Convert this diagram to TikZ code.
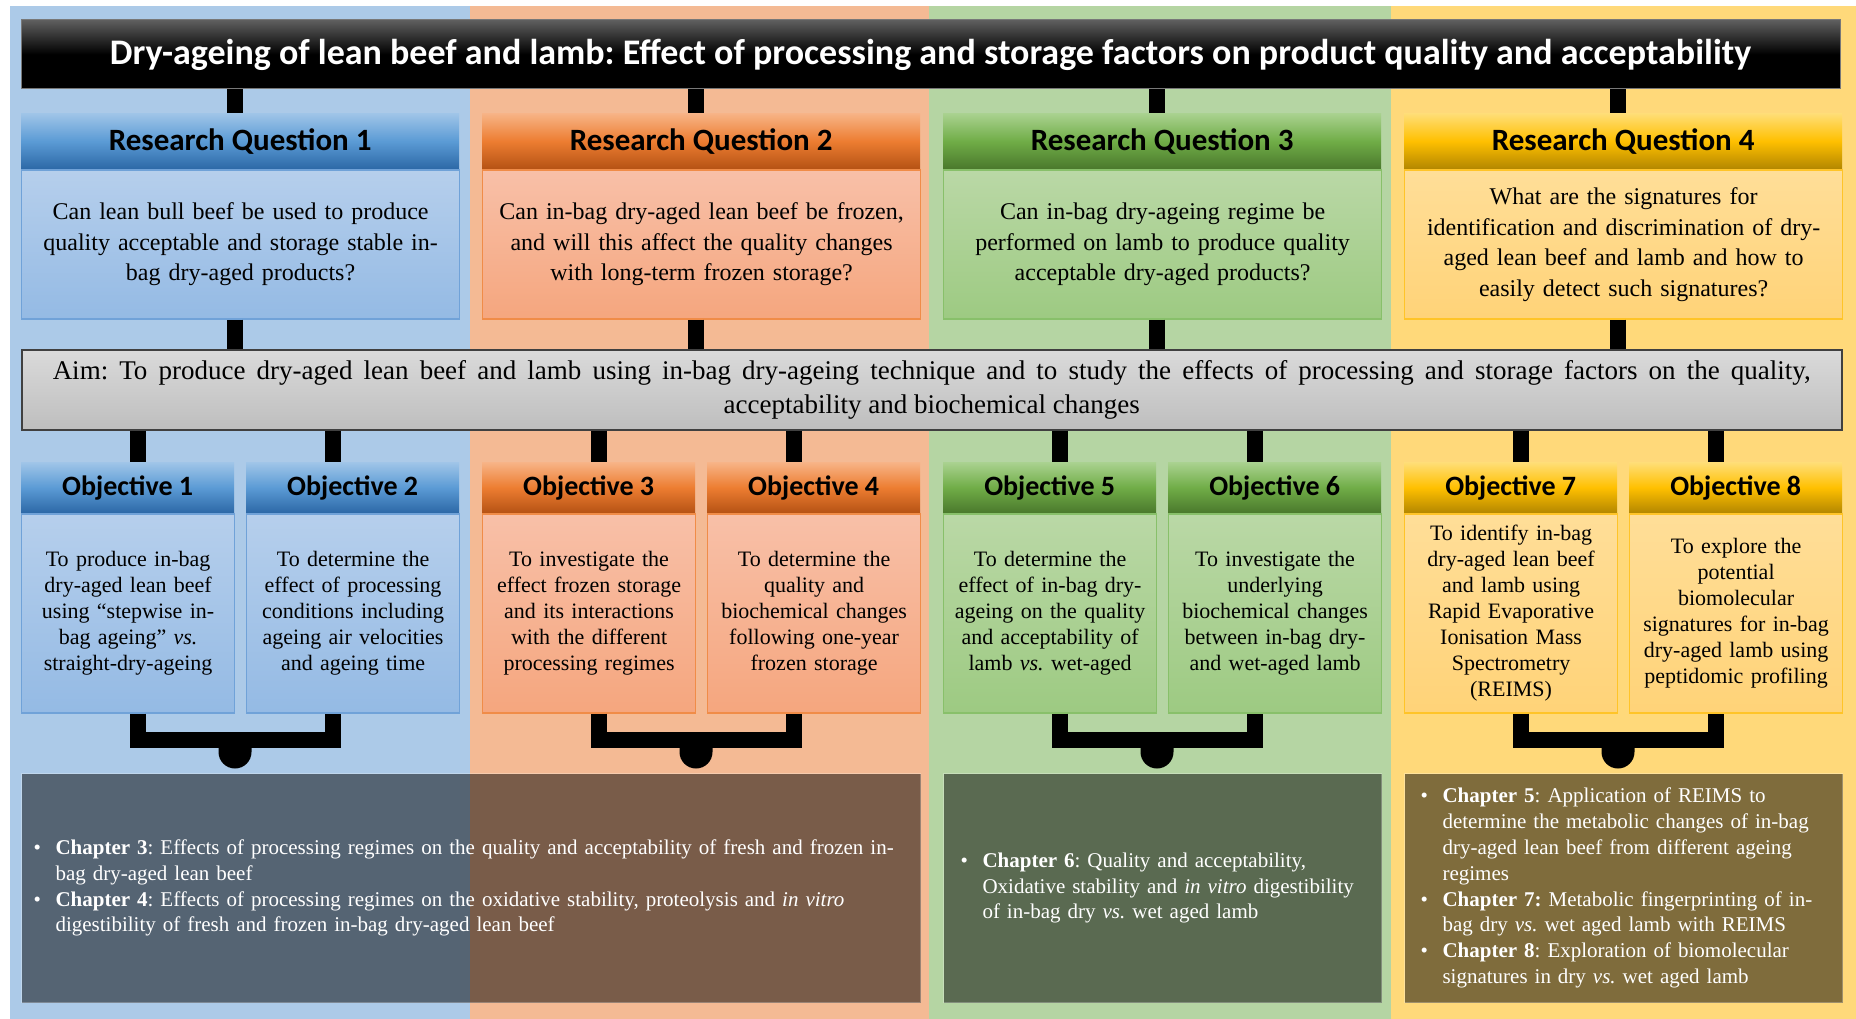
\documentclass[tikz,border=0pt]{standalone}
\usepackage{fontspec}
\setmainfont{Liberation Serif}
\newfontfamily\headfont{Carlito}
\usetikzlibrary{calc}
\frenchspacing

% column backgrounds
\definecolor{bluebg}{RGB}{172,202,232}
\definecolor{orangebg}{RGB}{244,186,148}
\definecolor{greenbg}{RGB}{181,213,163}
\definecolor{yellowbg}{RGB}{255,217,122}
% header gradients
\definecolor{blueT}{RGB}{160,197,232}
\definecolor{blueM}{RGB}{91,155,213}
\definecolor{blueB}{RGB}{44,104,166}
\definecolor{orangeT}{RGB}{247,180,135}
\definecolor{orangeM}{RGB}{237,125,49}
\definecolor{orangeB}{RGB}{181,82,20}
\definecolor{greenT}{RGB}{170,210,144}
\definecolor{greenM}{RGB}{112,173,71}
\definecolor{greenB}{RGB}{74,120,44}
\definecolor{goldT}{RGB}{255,222,120}
\definecolor{goldM}{RGB}{255,192,0}
\definecolor{goldB}{RGB}{178,134,0}
% body gradients and borders
\definecolor{blueLT}{RGB}{182,207,236}
\definecolor{blueLB}{RGB}{148,186,228}
\definecolor{blueLD}{RGB}{112,162,216}
\definecolor{orangeLT}{RGB}{248,192,168}
\definecolor{orangeLB}{RGB}{245,166,126}
\definecolor{orangeLD}{RGB}{240,140,72}
\definecolor{greenLT}{RGB}{186,216,166}
\definecolor{greenLB}{RGB}{157,202,130}
\definecolor{greenLD}{RGB}{136,192,106}
\definecolor{goldLT}{RGB}{255,222,152}
\definecolor{goldLB}{RGB}{255,211,120}
\definecolor{goldLD}{RGB}{255,196,40}

\tikzset{
  conn/.style={line width=16pt, black},
  bracketline/.style={line width=16pt, black, line join=miter},
  titlebox/.style={minimum width=1819pt, minimum height=69pt, inner sep=0pt,
    top color={rgb,255:red,95;green,95;blue,95}, bottom color=black, middle color=black,
    draw={rgb,255:red,120;green,120;blue,120}, line width=1pt, text=white,
    font=\headfont\bfseries\fontsize{36}{40}\selectfont},
  rqhead/.style={anchor=north west, minimum width=438pt, minimum height=56pt, inner sep=0pt,
    font=\headfont\bfseries\fontsize{31}{36}\selectfont},
  rqbody/.style={anchor=north west, minimum height=149pt, text width=426pt, inner xsep=6pt,
    inner ysep=0pt, align=center, line width=1.2pt, font=\fontsize{24}{30.5}\selectfont},
  objhead/.style={anchor=north west, minimum width=213pt, minimum height=51pt, inner sep=0pt,
    font=\headfont\bfseries\fontsize{28}{32}\selectfont},
  objbody/.style={anchor=north west, minimum height=199pt, text width=205pt, inner xsep=4pt,
    inner ysep=0pt, align=center, line width=1.2pt, font=\fontsize{22}{26}\selectfont},
  aimbox/.style={anchor=north west, minimum width=1820pt, minimum height=80pt, inner sep=0pt,
    align=center, top color={rgb,255:red,218;green,218;blue,218},
    bottom color={rgb,255:red,190;green,190;blue,190},
    draw={rgb,255:red,64;green,64;blue,64}, line width=1.5pt,
    font=\fontsize{27}{34}\selectfont},
  chapbox/.style={anchor=north west, minimum height=229pt, fill=black, fill opacity=0.5,
    draw=white, draw opacity=0.25, line width=1pt, text opacity=1, text=white,
    align=left, inner ysep=0pt, font=\fontsize{21}{25.8}\selectfont},
  bluehead/.style={top color=blueT, bottom color=blueB, middle color=blueM},
  orangehead/.style={top color=orangeT, bottom color=orangeB, middle color=orangeM},
  greenhead/.style={top color=greenT, bottom color=greenB, middle color=greenM},
  goldhead/.style={top color=goldT, bottom color=goldB, middle color=goldM},
  bluebody/.style={top color=blueLT, bottom color=blueLB, draw=blueLD},
  orangebody/.style={top color=orangeLT, bottom color=orangeLB, draw=orangeLD},
  greenbody/.style={top color=greenLT, bottom color=greenLB, draw=greenLD},
  goldbody/.style={top color=goldLT, bottom color=goldLB, draw=goldLD},
}

% bullet lines of the chapter boxes
\newcommand\chbullet{\makebox[22pt][l]{\textbullet}}
\newcommand\chindent{\hspace*{22pt}}

\begin{document}
\begin{tikzpicture}[x=1pt,y=-1pt]
\useasboundingbox (0,0) rectangle (1856,1019);
\fill[white] (0,0) rectangle (1856,1019);
\fill[bluebg] (10,6) rectangle (470,1019);
\fill[orangebg] (470,6) rectangle (929,1019);
\fill[greenbg] (929,6) rectangle (1391,1019);
\fill[yellowbg] (1391,6) rectangle (1856,1019);

% column axes
\coordinate (c1) at (235,0);   \coordinate (c1l) at (137.5,0);  \coordinate (c1r) at (332.5,0);
\coordinate (c2) at (696,0);   \coordinate (c2l) at (598.5,0);  \coordinate (c2r) at (793.5,0);
\coordinate (c3) at (1157,0);  \coordinate (c3l) at (1059.5,0); \coordinate (c3r) at (1254.5,0);
\coordinate (c4) at (1618,0);  \coordinate (c4l) at (1520.5,0); \coordinate (c4r) at (1715.5,0);

% title
\node[titlebox] (title) at (930.5,54.5)
  {Dry-ageing of lean beef and lamb: Effect of processing and storage factors on product quality and acceptability};

% research questions
\node[rqhead, bluehead] (rq1h) at (21,113) {Research Question 1};
\node[rqbody, bluebody] (rq1b) at (rq1h.south west)
  {Can lean bull beef be used to produce\\quality acceptable and storage stable in-\\bag dry-aged products?};
\node[rqhead, orangehead] (rq2h) at (482,113) {Research Question 2};
\node[rqbody, orangebody] (rq2b) at (rq2h.south west)
  {Can in-bag dry-aged lean beef be frozen,\\and will this affect the quality changes\\with long-term frozen storage?};
\node[rqhead, greenhead] (rq3h) at (943,113) {Research Question 3};
\node[rqbody, greenbody] (rq3b) at (rq3h.south west)
  {Can in-bag dry-ageing regime be\\performed on lamb to produce quality\\acceptable dry-aged products?};
\node[rqhead, goldhead] (rq4h) at (1404,113) {Research Question 4};
\node[rqbody, goldbody] (rq4b) at (rq4h.south west)
  {What are the signatures for\\identification and discrimination of dry-\\aged lean beef and lamb and how to\\easily detect such signatures?};

% aim
\node[aimbox] (aim) at (21,349)
  {\makebox[1758pt][s]{Aim: To produce dry-aged lean beef and lamb using in-bag dry-ageing technique and to study the effects of processing and storage factors on the quality,}\\
   acceptability and biochemical changes};

% objectives
\node[objhead, bluehead] (o1h) at (21,462) {Objective 1};
\node[objbody, bluebody] (o1b) at (o1h.south west)
  {To produce in-bag\\dry-aged lean beef\\using “stepwise in-\\bag ageing” \textit{vs.}\\straight-dry-ageing};
\node[objhead, bluehead] (o2h) at (246,462) {Objective 2};
\node[objbody, bluebody] (o2b) at (o2h.south west)
  {To determine the\\effect of processing\\conditions including\\ageing air velocities\\and ageing time};
\node[objhead, orangehead] (o3h) at (482,462) {Objective 3};
\node[objbody, orangebody] (o3b) at (o3h.south west)
  {To investigate the\\effect frozen storage\\and its interactions\\with the different\\processing regimes};
\node[objhead, orangehead] (o4h) at (707,462) {Objective 4};
\node[objbody, orangebody] (o4b) at (o4h.south west)
  {To determine the\\quality and\\biochemical changes\\following one-year\\frozen storage};
\node[objhead, greenhead] (o5h) at (943,462) {Objective 5};
\node[objbody, greenbody] (o5b) at (o5h.south west)
  {To determine the\\effect of in-bag dry-\\ageing on the quality\\and acceptability of\\lamb \textit{vs.} wet-aged};
\node[objhead, greenhead] (o6h) at (1168,462) {Objective 6};
\node[objbody, greenbody] (o6b) at (o6h.south west)
  {To investigate the\\underlying\\biochemical changes\\between in-bag dry-\\and wet-aged lamb};
\node[objhead, goldhead] (o7h) at (1404,462) {Objective 7};
\node[objbody, goldbody] (o7b) at (o7h.south west)
  {To identify in-bag\\dry-aged lean beef\\and lamb using\\Rapid Evaporative\\Ionisation Mass\\Spectrometry\\(REIMS)};
\node[objhead, goldhead] (o8h) at (1629,462) {Objective 8};
\node[objbody, goldbody] (o8b) at (o8h.south west)
  {To explore the\\potential\\biomolecular\\signatures for in-bag\\dry-aged lamb using\\peptidomic profiling};

% chapters
\node[chapbox, minimum width=899pt, text width=875pt, inner xsep=12pt] (ch34) at (21,773)
  {\mbox{\chbullet\textbf{Chapter 3}: Effects of processing regimes on the quality and acceptability of fresh and frozen in-}\\
   \chindent bag dry-aged lean beef\\
   \chbullet\textbf{Chapter 4}: Effects of processing regimes on the oxidative stability, proteolysis and \textit{in vitro}\\
   \chindent digestibility of fresh and frozen in-bag dry-aged lean beef};
\node[chapbox, minimum width=438pt, text width=404pt, inner xsep=17pt] (ch6) at (943,773)
  {\chbullet\textbf{Chapter 6}: Quality and acceptability,\\
   \chindent Oxidative stability and \textit{in vitro} digestibility\\
   \chindent of in-bag dry \textit{vs.} wet aged lamb};
\node[chapbox, minimum width=438pt, text width=406pt, inner xsep=16pt] (ch578) at (1404,773)
  {\chbullet\textbf{Chapter 5}: Application of REIMS to\\
   \chindent determine the metabolic changes of in-bag\\
   \chindent dry-aged lean beef from different ageing\\
   \chindent regimes\\
   \chbullet\textbf{Chapter 7:} Metabolic fingerprinting of in-\\
   \chindent bag dry \textit{vs.} wet aged lamb with REIMS\\
   \chbullet\textbf{Chapter 8}: Exploration of biomolecular\\
   \chindent signatures in dry \textit{vs.} wet aged lamb};

% connectors: title to questions, questions to aim, aim to objectives
\foreach \k in {1,2,3,4}{
  \draw[conn] (title.south -| c\k) -- (rq\k h.north -| c\k);
  \draw[conn] (rq\k b.south -| c\k) -- (aim.north -| c\k);
}
\foreach \k/\a/\b in {1/1/2,2/3/4,3/5/6,4/7/8}{
  \draw[conn] (aim.south -| c\k l) -- (o\a h.north -| c\k l);
  \draw[conn] (aim.south -| c\k r) -- (o\b h.north -| c\k r);
  % bracket joining two objectives, with a rounded tab towards the chapters
  \coordinate (k\k) at ($(c\k r)+(0,739.5)$);
  \draw[bracketline] (o\a b.south -| c\k l) |- (k\k) -- (o\b b.south -| k\k);
  \fill ($(c\k)+(-16.5,739.5)$) -- ++(0,12.5) arc[start angle=180, end angle=0, radius=16.5] -- ++(0,-12.5) -- cycle;
}
\end{tikzpicture}
\end{document}
